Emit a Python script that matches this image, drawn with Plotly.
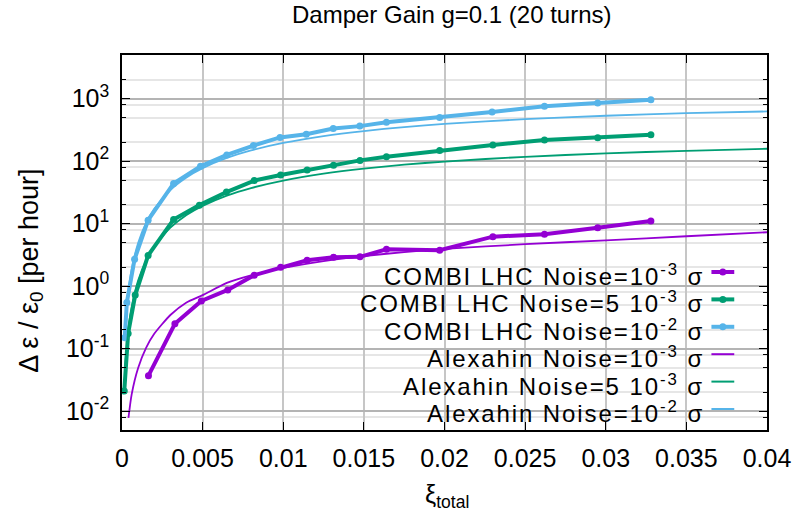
import math
import plotly.graph_objects as go

# ---------------- data ----------------
# COMBI LHC, noise = 1e-3 sigma
xi_combi_1e3 = [0.00164, 0.00328, 0.00492, 0.00656, 0.0082, 0.00984, 0.01148, 0.01312,
                0.01476, 0.0164, 0.0197, 0.0230, 0.0262, 0.0295, 0.0328]
de_combi_1e3 = [0.037, 0.25, 0.58, 0.87, 1.5, 2.0, 2.6, 2.9, 2.95, 3.9, 3.75, 6.2, 6.8, 8.6, 11.0]

# COMBI LHC, noise = 5e-3 sigma
xi_combi_5e3 = [0.00014, 0.00038, 0.00082, 0.00162, 0.0032, 0.0048, 0.00648, 0.0082, 0.00984,
                0.01148, 0.01312, 0.01476, 0.0164, 0.0197, 0.0230, 0.0262, 0.0295, 0.0328]
de_combi_5e3 = [0.021, 0.175, 0.72, 3.1, 11.7, 19.8, 32, 49, 60, 72, 86, 103, 118, 148, 182,
                218, 237, 265]

# COMBI LHC, noise = 1e-2 sigma
xi_combi_1e2 = [0.00017, 0.0003, 0.00078, 0.00162, 0.0032, 0.00487, 0.0065, 0.00815, 0.0098,
                0.01143, 0.0131, 0.01475, 0.0164, 0.0197, 0.02295, 0.0262, 0.0295, 0.0328]
de_combi_1e2 = [0.15, 0.55, 2.7, 11.4, 44, 83, 126, 178, 240, 270, 334, 364, 420, 500, 614,
                756, 853, 965]

# Alexahin theory curves
xi_alex = [0.0002, 0.0004, 0.0006, 0.001, 0.0015, 0.002, 0.003, 0.004, 0.005, 0.0065, 0.008,
           0.01, 0.0125, 0.015, 0.0175, 0.02, 0.025, 0.03, 0.035, 0.04]
de_alex_1e3 = [None, 0.0078, 0.0186, 0.049, 0.104, 0.173, 0.346, 0.55, 0.72, 1.13, 1.49, 1.96,
               2.52, 3.04, 3.51, 3.95, 4.7, 5.4, 6.3, 7.3]
de_alex_5e3 = [0.0545, 0.212, 0.465, 1.23, 2.59, 4.33, 8.65, 13.8, 19.3, 28.2, 37.2, 49.0, 63.0,
               76.0, 87.9, 98.7, 117.6, 133.4, 146.7, 158.1]
de_alex_1e2 = [0.22, 0.85, 1.86, 4.9, 10.35, 17.3, 34.6, 55, 77.4, 112.7, 148.7, 195.9, 252,
               303.8, 351.4, 394.8, 470.4, 533.6, 586.8, 625]

x_tickvals = [0, 0.005, 0.01, 0.015, 0.02, 0.025, 0.03, 0.035, 0.04]
x_ticktext = ["0", "0.005", "0.01", "0.015", "0.02", "0.025", "0.03", "0.035", "0.04"]
y_tickvals = [0.01, 0.1, 1, 10, 100, 1000]
y_ticktext = ["10<sup>-2</sup>", "10<sup>-1</sup>", "10<sup>0</sup>", "10<sup>1</sup>",
              "10<sup>2</sup>", "10<sup>3</sup>"]

legend_labels = [
    "COMBI LHC Noise=10<sup>-3</sup> σ",
    "COMBI LHC Noise=5 10<sup>-3</sup> σ",
    "COMBI LHC Noise=10<sup>-2</sup> σ",
    "Alexahin Noise=10<sup>-3</sup> σ",
    "Alexahin Noise=5 10<sup>-3</sup> σ",
    "Alexahin Noise=10<sup>-2</sup> σ",
]

# ---------------- style ----------------
PURPLE = "#9400D3"
GREEN = "#009E73"
BLUE = "#56B4E9"
FONT = "Liberation Sans, Arial, Helvetica, sans-serif"
FS = 25

W, H = 803, 517
L, R, T, B = 122, 772, 55, 430  # plot area in pixels


def px(xp):
    return (xp - L) / (R - L)


def py(yp):
    return (B - yp) / (B - T)


fig = go.Figure()

combi = [(xi_combi_1e3, de_combi_1e3, PURPLE),
         (xi_combi_5e3, de_combi_5e3, GREEN),
         (xi_combi_1e2, de_combi_1e2, BLUE)]
for xs, ys, c in combi:
    fig.add_trace(go.Scatter(x=xs, y=ys, mode="lines+markers",
                             line=dict(color=c, width=4),
                             marker=dict(color=c, size=7, symbol="circle"),
                             showlegend=False))

alex = [(de_alex_1e3, PURPLE), (de_alex_5e3, GREEN), (de_alex_1e2, BLUE)]
for ys, c in alex:
    fig.add_trace(go.Scatter(x=xi_alex, y=ys, mode="lines",
                             line=dict(color=c, width=1.8, shape="spline", smoothing=0.6),
                             connectgaps=False, showlegend=False))

minor_vals = [m * 10 ** e for e in range(-3, 4) for m in (2, 5, 8)]

fig.update_xaxes(
    range=[0, 0.04], tickmode="array", tickvals=x_tickvals, ticktext=x_ticktext,
    ticks="inside", ticklen=8, tickwidth=1.2, tickcolor="black", mirror="allticks",
    showline=True, linecolor="black", linewidth=1.5,
    showgrid=True, gridcolor="#c6c6c6", gridwidth=1.5, zeroline=False,
    tickfont=dict(family=FONT, size=FS, color="black"), ticklabelstandoff=5,
)
fig.update_yaxes(
    type="log", range=[math.log10(0.005), math.log10(5000)],
    tickmode="array", tickvals=y_tickvals, ticktext=y_ticktext,
    ticks="inside", ticklen=8, tickwidth=1.2, tickcolor="black", mirror="allticks",
    showline=True, linecolor="black", linewidth=1.5,
    showgrid=True, gridcolor="#b4b4b4", gridwidth=1.5, zeroline=False,
    tickfont=dict(family=FONT, size=FS, color="black"), ticklabelstandoff=6,
    minor=dict(tickmode="array", tickvals=minor_vals, ticks="inside", ticklen=4,
               tickcolor="black", showgrid=True, gridcolor="#e6e6e6", gridwidth=1.5),
)

shapes = []
# opaque key box
shapes.append(dict(type="rect", xref="paper", yref="paper", x0=px(323), x1=1, y0=0,
                   y1=py(256), fillcolor="white", line=dict(width=0), layer="between"))

annotations = []
LFS = 24
entry_y = [273 + 27.4 * i for i in range(6)]
sample_cols = [PURPLE, GREEN, BLUE, PURPLE, GREEN, BLUE]
for i, (lab, c) in enumerate(zip(legend_labels, sample_cols)):
    yy = entry_y[i]
    annotations.append(dict(xref="paper", yref="paper", x=px(711), y=py(yy + 2),
                            xanchor="right", yanchor="middle", showarrow=False,
                            text='<span style="letter-spacing:1.9px">' + lab + "</span>",
                            font=dict(family=FONT, size=LFS, color="black")))
    thick = i < 3
    ly = yy - 1
    shapes.append(dict(type="line", xref="paper", yref="paper", x0=px(716), x1=px(739),
                       y0=py(ly), y1=py(ly), line=dict(color=c, width=4 if thick else 2)))
    if thick:
        r = 3.5
        shapes.append(dict(type="circle", xref="paper", yref="paper",
                           x0=px(727.5 - r), x1=px(727.5 + r), y0=py(ly + r), y1=py(ly - r),
                           fillcolor=c, line=dict(color=c, width=0)))

annotations.append(dict(xref="paper", yref="paper", x=px(455), y=py(14), xanchor="center",
                        yanchor="middle", showarrow=False,
                        text="Damper Gain g=0.1 (20 turns)",
                        font=dict(family=FONT, size=24, color="black")))
annotations.append(dict(xref="paper", yref="paper", x=px(450), y=py(496), xanchor="center",
                        yanchor="middle", showarrow=False, text="ξ<sub>total</sub>",
                        font=dict(family=FONT, size=FS, color="black")))
annotations.append(dict(xref="paper", yref="paper", x=px(30), y=py(271), xanchor="center",
                        yanchor="middle", showarrow=False, textangle=-90,
                        text="Δ ε / ε<sub>0</sub> [per hour]",
                        font=dict(family=FONT, size=27, color="black")))

fig.update_layout(
    width=W, height=H, autosize=False,
    margin=dict(l=L, r=W - R, t=T, b=H - B),
    paper_bgcolor="white", plot_bgcolor="white",
    showlegend=False, shapes=shapes, annotations=annotations,
    font=dict(family=FONT, size=FS, color="black"),
)

fig.write_html("out.html")
